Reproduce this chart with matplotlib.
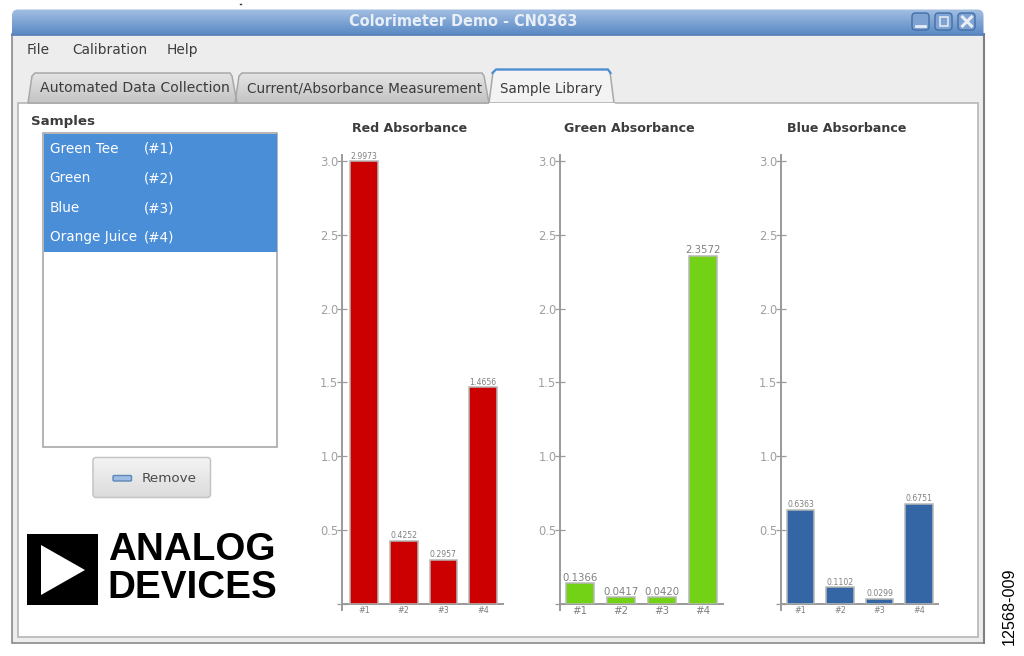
import numpy as np
import matplotlib
matplotlib.use("Agg")
import matplotlib.pyplot as plt
from matplotlib.patches import FancyBboxPatch, Polygon, Rectangle

plt.rcParams.update({
    "font.family": ["DejaVu Sans"],
    "figure.dpi": 100,
})

W, H = 1024, 656

LABELS = ["#1", "#2", "#3", "#4"]
RED_VALUES = [2.9973, 0.4252, 0.2957, 1.4656]
GREEN_VALUES = [0.1366, 0.0417, 0.0420, 2.3572]
BLUE_VALUES = [0.6363, 0.1102, 0.0299, 0.6751]
YTICKS = [0.5, 1.0, 1.5, 2.0, 2.5, 3.0]
SAMPLES = ["Green Tee", "Green", "Blue", "Orange Juice"]
SAMPLE_IDS = ["(#1)", "(#2)", "(#3)", "(#4)"]
MENUS = ["File", "Calibration", "Help"]

BAR_RED = "#cc0000"
BAR_GREEN = "#73d216"
BAR_BLUE = "#3465a4"
EDGE = "#b8b8b8"
AXIS = "#9a9a9a"
TICK_TEXT = "#a0a0a0"
DARK = "#3c3c3c"
SELECT = "#4a8ed8"


def rounded(ax, x0, y0, x1, y1, r, **kw):
    p = FancyBboxPatch((x0 + r, y0 + r), x1 - x0 - 2 * r, y1 - y0 - 2 * r,
                       boxstyle=f"round,pad={r},rounding_size={r}", **kw)
    ax.add_patch(p)
    return p


def gradient(ax, x0, y0, x1, y1, top, bottom, clip=None, zorder=1):
    c0 = np.array(matplotlib.colors.to_rgb(top))
    c1 = np.array(matplotlib.colors.to_rgb(bottom))
    t = np.linspace(0, 1, 32)[:, None, None]
    img = c0[None, None, :] * (1 - t) + c1[None, None, :] * t
    im = ax.imshow(img, extent=(x0, x1, y1, y0), aspect="auto", zorder=zorder,
                   interpolation="bilinear")
    if clip is not None:
        im.set_clip_path(clip)
    return im


def tab(ax, x0, x1, top, fill_top, fill_bottom, edge, label, size, color=DARK):
    pts = [(x0, 103), (x0 + 4, top + 3), (x0 + 7, top), (x1 - 7, top), (x1 - 5, top + 3), (x1, 103)]
    poly = Polygon(pts, closed=True, fc="none", ec=edge, lw=1.1, zorder=3)
    ax.add_patch(poly)
    gradient(ax, x0, top, x1, 103, fill_top, fill_bottom, clip=poly, zorder=2)
    ax.text((x0 + x1) / 2 + 2.5, 88.5, label, fontsize=size, color=color, ha="center", va="center", zorder=4)


def draw_window(fig):
    ax = fig.add_axes([0, 0, 1, 1], zorder=0)
    ax.set_xlim(0, W)
    ax.set_ylim(H, 0)
    ax.axis("off")

    # frame
    ax.add_patch(Rectangle((12, 34), 971.5, 609, fc="#ededed", ec="#8a8a8a", lw=1.2, zorder=1))
    ax.add_patch(Rectangle((17.5, 103), 960.5, 534, fc="white", ec="#b5b5b5", lw=1.2, zorder=1))
    ax.plot([984, 984], [34, 643], color="#808080", lw=1.5, zorder=1)

    # title bar
    bar = rounded(ax, 12, 9.5, 983.5, 45, 6, fc="none", ec="none", zorder=2)
    gradient(ax, 12, 9.5, 983.5, 34.5, "#a3bfe2", "#5c8bc6", clip=bar, zorder=2)
    ax.plot([12, 983.5], [34.5, 34.5], color="#4f7db8", lw=1.2, zorder=3)
    ax.text(463, 22, "Colorimeter Demo - CN0363", fontsize=10.45, color="#e9eff7", fontweight="bold",
            ha="center", va="center", zorder=4)
    for x0 in (912, 935, 958):
        rounded(ax, x0, 13, x0 + 17, 30, 3.5, fc="#7fa3d2", ec="#426fa8", lw=1, zorder=4)
    ax.plot([916, 925], [26, 26], color="#e8eef6", lw=2, zorder=5)
    ax.add_patch(Rectangle((939.5, 17), 8, 9, fc="none", ec="#e8eef6", lw=1.1, zorder=5))
    ax.plot([962.5, 971.5], [17, 26], color="#e8eef6", lw=2.2, zorder=5)
    ax.plot([962.5, 971.5], [26, 17], color="#e8eef6", lw=2.2, zorder=5)

    # menu
    for x, name in zip((27, 72, 167), MENUS):
        ax.text(x, 50, name, fontsize=9.9, color=DARK, va="center", zorder=4)

    # tabs
    tab(ax, 28, 237, 73, "#e4e4e4", "#c4c4c4", "#a8a8a8", "Automated Data Collection", 10.1)
    tab(ax, 235, 489, 73, "#e4e4e4", "#c4c4c4", "#a8a8a8", "Current/Absorbance Measurement", 9.8)
    ax.add_patch(Polygon([(489, 103), (493, 72), (496, 69.5), (608, 69.5), (610, 72), (614, 103)],
                         closed=True, fc="#f3f3f3", ec="#a8a8a8", lw=1.1, zorder=4))
    ax.plot([492.5, 496, 608, 610.5], [73, 69.5, 69.5, 73], color="#4a8ed8", lw=1.6, zorder=5)
    ax.plot([489.5, 613.5], [103.5, 103.5], color="white", lw=1.5, zorder=5)
    ax.text(551, 88.5, "Sample Library", fontsize=9.75, color=DARK, ha="center", va="center", zorder=6)

    # sample list
    ax.text(31, 122, "Samples", fontsize=9.6, color=DARK, fontweight="bold", va="center", zorder=4)
    ax.add_patch(Rectangle((43, 133), 234, 314, fc="white", ec="#a0a0a0", lw=1.1, zorder=2))
    ax.add_patch(Rectangle((43.5, 133.5), 233.5, 118, fc=SELECT, ec="none", zorder=3))
    for y, name, sid in zip((149, 178.5, 208, 237.5), SAMPLES, SAMPLE_IDS):
        ax.text(49.5, y, name, fontsize=9.8, color="white", va="center", zorder=4)
        ax.text(144, y, sid, fontsize=9.8, color="white", va="center", zorder=4)

    # remove button
    btn = rounded(ax, 93, 457.5, 210.5, 497.5, 3, fc="none", ec="#c4c4c4", lw=1.1, zorder=3)
    gradient(ax, 93, 457.5, 210.5, 497.5, "#f4f4f4", "#dcdcdc", clip=btn, zorder=2)
    rounded(ax, 113, 475.5, 131.5, 481, 1.2, fc="#9dbde4", ec="#5d86ba", lw=1, zorder=4)
    ax.text(142, 478, "Remove", fontsize=9.7, color="#4a4a4a", va="center", zorder=4)

    # logo
    ax.add_patch(Rectangle((27, 534), 70.5, 70.5, fc="black", ec="none", zorder=3))
    ax.add_patch(Polygon([(41, 545), (85, 570), (41, 595)], closed=True, fc="white", ec="none", zorder=4))
    ax.text(108, 550.5, "ANALOG", family="Liberation Sans", fontweight="bold", fontsize=27.8,
            color="black", va="center", zorder=4)
    ax.text(107, 588.5, "DEVICES", family="Liberation Sans", fontweight="bold", fontsize=27.8,
            color="black", va="center", zorder=4)

    # outside the window
    ax.text(1009, 606, "12568-009", family="Liberation Sans", fontsize=11.6, color="black",
            rotation=90, ha="center", va="center", zorder=4)
    ax.plot([240, 241], [3.5, 3.5], color="#333333", lw=1, zorder=4)


def bar_chart(fig, left, right, first, step, values, color, title, title_x, val_fs, tick_fs):
    base, top, unit = 603.5, 155.0, 147.5
    ax = fig.add_axes([left / W, 1 - base / H, (right - left) / W, (base - top) / H],
                      facecolor="none", zorder=2)
    ax.set_xlim((left - first) / step, (right - first) / step)
    ax.set_ylim(0, (base - top) / unit)
    bars = ax.bar(range(len(values)), values, width=0.7, color=color, edgecolor=EDGE, lw=1.1, zorder=3)
    ax.bar_label(bars, labels=[f"{v:.4f}" for v in values], fontsize=val_fs, color="#808080", padding=0.5)

    for s in ("top", "right"):
        ax.spines[s].set_visible(False)
    for s in ("left", "bottom"):
        ax.spines[s].set_color(AXIS)
        ax.spines[s].set_linewidth(1.4)
    ax.spines["left"].set_bounds(-6 / unit, ax.get_ylim()[1])

    ax.set_yticks([0] + YTICKS, labels=[""] + [f"{t:.1f}" for t in YTICKS])
    ax.tick_params(axis="y", direction="inout", length=7, width=0.9, color=AXIS,
                   labelsize=8.3, labelcolor=TICK_TEXT, pad=-1)
    ax.set_xticks(range(len(values)), labels=LABELS)
    ax.tick_params(axis="x", length=0, labelsize=tick_fs, labelcolor="#808080", pad=2)

    fig.text(title_x / W, 1 - 128 / H, title, fontsize=9.1, color=DARK, fontweight="bold",
             ha="center", va="center")
    return ax


def main():
    fig = plt.figure(figsize=(W / 100, H / 100), facecolor="white")
    draw_window(fig)
    bar_chart(fig, 342, 503, 364, 39.7, RED_VALUES, BAR_RED, "Red Absorbance", 410, 5.6, 5.8)
    bar_chart(fig, 560, 723, 580, 41, GREEN_VALUES, BAR_GREEN, "Green Absorbance", 629, 7.3, 7.4)
    bar_chart(fig, 781, 938, 800.5, 39.5, BLUE_VALUES, BAR_BLUE, "Blue Absorbance", 847, 5.6, 5.8)
    fig.savefig("out.png", dpi=100)
    plt.close(fig)


if __name__ == "__main__":
    main()
